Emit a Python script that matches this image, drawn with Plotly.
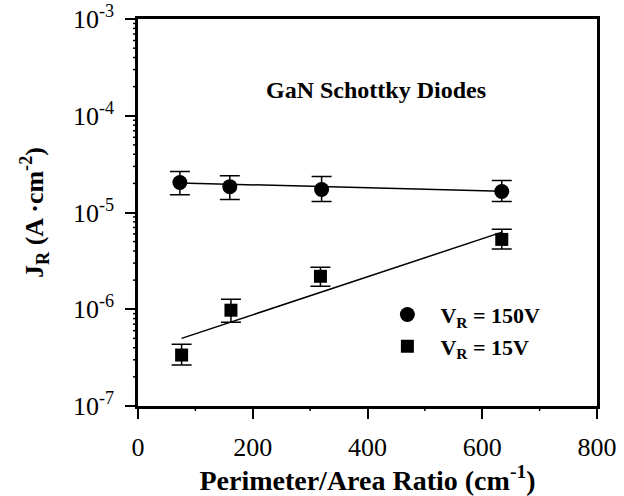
import plotly.graph_objects as go
import numpy as np

# Data: perimeter/area ratio (cm^-1) and reverse current density J_R (A/cm^2)
ratio_150 = [73, 160, 320, 634]
jr_150 = [2.04e-5, 1.85e-5, 1.73e-5, 1.65e-5]
jr_150_hi = [2.65e-5, 2.40e-5, 2.35e-5, 2.14e-5]
jr_150_lo = [1.53e-5, 1.36e-5, 1.30e-5, 1.30e-5]

ratio_15 = [76, 162, 318, 634]
jr_15 = [3.36e-7, 9.77e-7, 2.19e-6, 5.27e-6]
jr_15_hi = [4.35e-7, 1.27e-6, 2.71e-6, 6.70e-6]
jr_15_lo = [2.65e-7, 7.34e-7, 1.73e-6, 4.20e-6]

# Fit lines (endpoints)
fit_x_150 = [73, 634]
fit_y_150 = [2.02e-5, 1.66e-5]
fit_x_15 = [76, 636]
fit_y_15 = [5.0e-7, 6.3e-6]

x_ticks = [0, 200, 400, 600, 800]
x_minor = [100, 300, 500, 700]
y_ticks = [1e-7, 1e-6, 1e-5, 1e-4, 1e-3]
y_ticktext = ["10<sup>-7</sup>", "10<sup>-6</sup>", "10<sup>-5</sup>", "10<sup>-4</sup>", "10<sup>-3</sup>"]
y_minor = [m * d for d in [1e-7, 1e-6, 1e-5, 1e-4] for m in range(2, 10)]

SERIF = "Liberation Serif, Times New Roman, serif"
Y_RANGE = [-7.0005, -2.9995]

fig = go.Figure()

fig.add_trace(go.Scatter(x=fit_x_150, y=fit_y_150, mode="lines",
                         line=dict(color="black", width=1.5), showlegend=False, hoverinfo="skip"))
fig.add_trace(go.Scatter(x=fit_x_15, y=fit_y_15, mode="lines",
                         line=dict(color="black", width=1.5), showlegend=False, hoverinfo="skip"))

fig.add_trace(go.Scatter(
    x=ratio_150, y=jr_150, mode="markers", name="<b>V<sub>R</sub> = 150V</b>",
    marker=dict(symbol="circle", size=15, color="black"),
    error_y=dict(type="data", symmetric=False,
                 array=list(np.array(jr_150_hi) - np.array(jr_150)),
                 arrayminus=list(np.array(jr_150) - np.array(jr_150_lo)),
                 color="black", thickness=1.5, width=10)))
fig.add_trace(go.Scatter(
    x=ratio_15, y=jr_15, mode="markers", name="<b>V<sub>R</sub> = 15V</b>",
    marker=dict(symbol="square", size=13, color="black"),
    error_y=dict(type="data", symmetric=False,
                 array=list(np.array(jr_15_hi) - np.array(jr_15)),
                 arrayminus=list(np.array(jr_15) - np.array(jr_15_lo)),
                 color="black", thickness=1.5, width=10)))

# minor tick marks (axis decoration) drawn as pixel-sized lines
for v in y_minor:
    fig.add_shape(type="line", xref="paper", yref="y", xsizemode="pixel", xanchor=0,
                  x0=-5, x1=0, y0=v, y1=v, line=dict(color="black", width=1.5), layer="above")
for v in x_minor:
    fig.add_shape(type="line", xref="x", yref="paper", ysizemode="pixel", yanchor=0,
                  y0=-5, y1=0, x0=v, x1=v, line=dict(color="black", width=1.5), layer="above")

fig.add_annotation(text="<b>GaN Schottky Diodes</b>", x=0.518, y=0.856, xref="paper", yref="paper",
                   showarrow=False, font=dict(family=SERIF, size=24, color="black"))

fig.update_layout(
    width=624, height=496,
    margin=dict(l=138, r=27, t=19, b=90),
    paper_bgcolor="white", plot_bgcolor="white",
    font=dict(family=SERIF, color="black"),
    legend=dict(x=0.515, y=0.29, xanchor="left", yanchor="top",
                font=dict(family=SERIF, size=22, color="black"),
                bgcolor="rgba(0,0,0,0)", itemwidth=56, tracegroupgap=0),
    xaxis=dict(range=[0, 800], tickmode="array", tickvals=x_ticks, ticktext=[str(v) for v in x_ticks],
               ticks="outside", ticklen=10, tickwidth=2, tickcolor="black",
               showline=True, linewidth=2.5, linecolor="black", mirror=True,
               showgrid=False, zeroline=False, ticklabelstandoff=6, automargin=False,
               ticklabeloverflow="allow",
               tickfont=dict(family=SERIF, size=26),
               title=dict(text="<b>Perimeter/Area Ratio (cm<sup>-1</sup>)</b>",
                          font=dict(family=SERIF, size=28), standoff=8)),
    yaxis=dict(type="log", range=Y_RANGE, tickmode="array", tickvals=y_ticks, ticktext=y_ticktext,
               ticks="outside", ticklen=10, tickwidth=2, tickcolor="black",
               showline=True, linewidth=2.5, linecolor="black", mirror=True,
               showgrid=False, zeroline=False, ticklabelstandoff=6, automargin=False,
               ticklabeloverflow="allow",
               tickfont=dict(family=SERIF, size=26),
               title=dict(text="<b>J<sub>R</sub> (A ·cm<sup>-2</sup>)</b>",
                          font=dict(family=SERIF, size=26), standoff=22)),
)

fig.write_html("out.html")
